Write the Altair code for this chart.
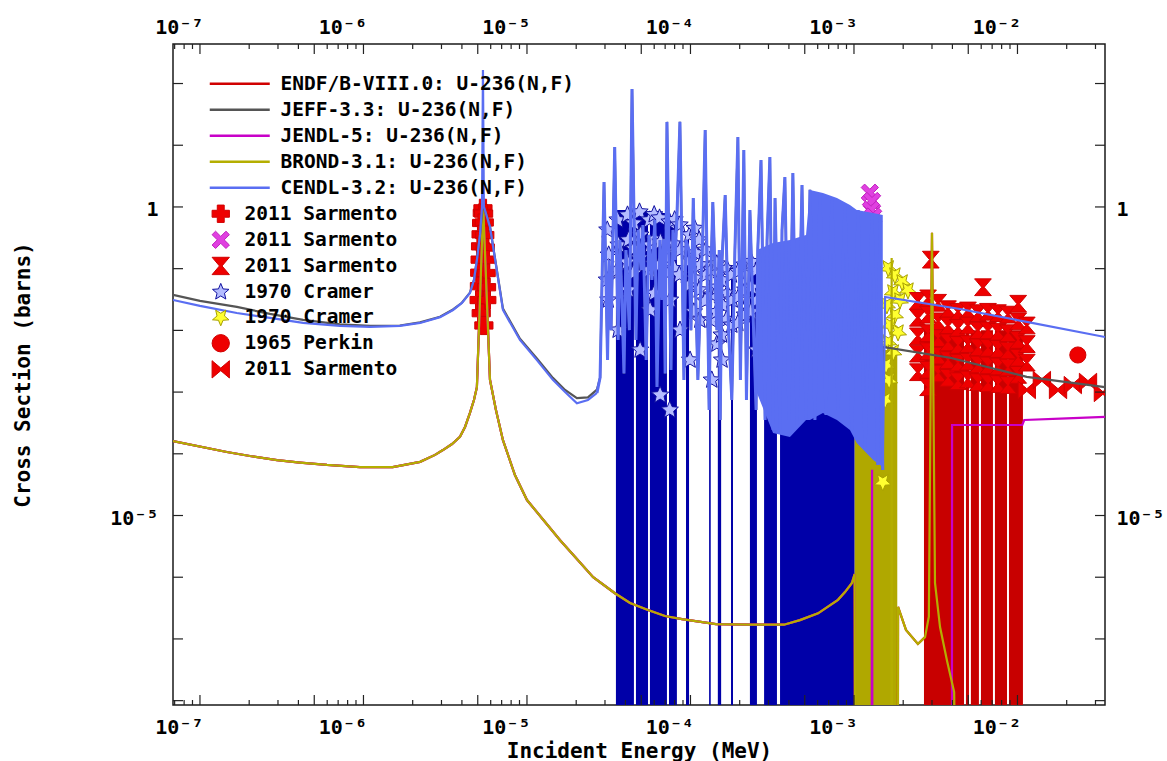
import altair as alt
import pandas as pd

FONT = "DejaVu Sans Mono"

# ------------------------------------------------------------------ categories
SERIES = ["ENDF/B-VIII.0: U-236(N,F)", "JEFF-3.3: U-236(N,F)", "JENDL-5: U-236(N,F)",
          "BROND-3.1: U-236(N,F)", "CENDL-3.2: U-236(N,F)"]
SERIES_COLORS = ["#d00000", "#555555", "#c800c8", "#b4ae00", "#5a6ef2"]

EXP_KEYS = ["sarm_plus", "sarm_x", "sarm_hour", "cram_blue", "cram_yel", "perkin", "sarm_bow"]
EXP_LABELS = ["2011 Sarmento", "2011 Sarmento", "2011 Sarmento", "1970 Cramer",
              "1970 Cramer", "1965 Perkin", "2011 Sarmento"]

# ------------------------------------------------------------------ axis ticks
X_MAJOR = [1e-7, 1e-6, 1e-5, 1e-4, 1e-3, 1e-2]
X_MID = [5e-7, 5e-6, 5e-5, 5e-4, 5e-3]
X_MINOR = [7e-8, 8e-8, 9e-8, 2e-7, 3e-7, 4e-7, 6e-7, 7e-7, 8e-7, 9e-7,
           2e-6, 3e-6, 4e-6, 6e-6, 7e-6, 8e-6, 9e-6,
           2e-5, 3e-5, 4e-5, 6e-5, 7e-5, 8e-5, 9e-5,
           2e-4, 3e-4, 4e-4, 6e-4, 7e-4, 8e-4, 9e-4,
           2e-3, 3e-3, 4e-3, 6e-3, 7e-3, 8e-3, 9e-3,
           2e-2, 3e-2]
Y_MAJOR = [1e-8, 1e-7, 1e-6, 1e-5, 1e-4, 1e-3, 1e-2, 1e-1, 1.0, 10.0, 100.0]
X_TICK_TEXT = {-7: "10⁻⁷", -6: "10⁻⁶", -5: "10⁻⁵", -4: "10⁻⁴", -3: "10⁻³", -2: "10⁻²"}
Y_TICK_TEXT = {0: "1", -5: "10⁻⁵"}

X_DOMAIN = [6.84e-8, 3.43e-2]
Y_DOMAIN = [8.5e-9, 437.0]
ZERO = 1e-12   # effectively zero cross section (below the plotted range)

# ------------------------------------------------------------------ evaluated data (E [MeV], sigma [b])
LOW_CURVE = [(6.84e-8, 1.6e-4), (1.46e-7, 1.07e-4), (2.02e-7, 9.2e-5), (2.96e-7, 7.9e-5),
             (4.09e-7, 7.2e-5), (5.98e-7, 6.6e-5), (9.5e-7, 6.1e-5), (1.51e-6, 6.1e-5),
             (2.22e-6, 7.4e-5), (2.74e-6, 9.6e-5), (3.06e-6, 1.15e-4), (3.48e-6, 1.44e-4),
             (3.89e-6, 1.88e-4), (4.18e-6, 2.72e-4), (4.48e-6, 4.6e-4), (4.74e-6, 7.45e-4),
             (4.94e-6, 1.2e-3), (5.40e-6, 1.0), (5.94e-6, 1.58e-3), (6.46e-6, 5.13e-4),
             (7.13e-6, 1.66e-4), (8.44e-6, 4.53e-5), (1.0e-5, 1.78e-5), (1.29e-5, 7.85e-6),
             (1.59e-5, 4.0e-6), (1.97e-5, 2.12e-6), (2.54e-5, 1.0e-6), (3.45e-5, 5.5e-7),
             (4.27e-5, 3.82e-7), (5.5e-5, 2.95e-7), (6.98e-5, 2.35e-7), (8.87e-5, 2.1e-7),
             (1.43e-4, 1.74e-7), (2.31e-4, 1.7e-7), (3.73e-4, 1.7e-7), (4.67e-4, 2.02e-7),
             (6.03e-4, 2.6e-7), (7.98e-4, 4.3e-7), (8.81e-4, 5.75e-7), (9.72e-4, 8.1e-7),
             (1.01e-3, 1.12e-6)]

ENDF_TAIL = [(1.02e-3, ZERO), (1.85e-3, ZERO), (1.86e-3, 3.3e-7), (2.08e-3, 1.4e-7),
             (2.46e-3, 8.3e-8), (2.72e-3, 1.07e-7), (2.87e-3, 2.3e-7), (3.0e-3, 0.38),
             (3.13e-3, 8.1e-7), (3.36e-3, 1.56e-7), (3.71e-3, 4.4e-8), (4.10e-3, 1.38e-8),
             (4.27e-3, ZERO)]

JENDL_TAIL = [(1.02e-3, ZERO), (1.28e-3, ZERO), (1.29e-3, 5.5e-5), (1.30e-3, ZERO),
              (3.97e-3, ZERO), (3.98e-3, 2.93e-4), (1.07e-2, 2.93e-4), (1.10e-2, 3.53e-4),
              (2.0e-2, 3.75e-4), (3.43e-2, 3.96e-4)]

BROND_TAIL = [(1.02e-3, ZERO), (1.69e-3, ZERO), (1.70e-3, 0.149), (1.71e-3, ZERO),
              (1.85e-3, ZERO), (1.86e-3, 3.3e-7), (2.08e-3, 1.4e-7), (2.46e-3, 8.3e-8),
              (2.72e-3, 1.07e-7), (2.87e-3, 2.3e-7), (3.0e-3, 0.38), (3.13e-3, 8.1e-7),
              (3.36e-3, 1.56e-7), (3.71e-3, 4.4e-8), (4.10e-3, 1.38e-8), (4.27e-3, ZERO)]

JEFF_LOW = [(6.84e-8, 0.0375), (1.0e-7, 0.030), (1.68e-7, 0.024), (2.68e-7, 0.0185),
            (4.27e-7, 0.0148), (7.18e-7, 0.0125), (1.10e-6, 0.0118), (1.67e-6, 0.0120),
            (2.22e-6, 0.0135), (2.94e-6, 0.0166), (3.53e-6, 0.0218), (4.00e-6, 0.028),
            (4.48e-6, 0.041), (4.74e-6, 0.066), (4.94e-6, 0.14), (5.16e-6, 0.36),
            (5.38e-6, 1.1), (5.60e-6, 0.8), (5.94e-6, 0.48), (6.46e-6, 0.118),
            (7.13e-6, 0.0225), (9.06e-6, 7.3e-3), (1.15e-5, 3.5e-3), (1.44e-5, 1.7e-3),
            (1.71e-5, 1.08e-3), (2.02e-5, 8.0e-4), (2.36e-5, 8.2e-4), (2.68e-5, 1.1e-3)]
JEFF_HIGH = [(1.50e-3, 5.4e-3), (3.87e-3, 3.6e-3), (1.14e-2, 1.76e-3), (3.43e-2, 1.2e-3)]

CENDL_LOW = [(6.84e-8, 0.0311), (1.0e-7, 0.0249), (1.68e-7, 0.0191), (2.68e-7, 0.0159),
             (4.27e-7, 0.0132), (7.18e-7, 0.0118), (1.10e-6, 0.0114), (1.67e-6, 0.0118),
             (2.22e-6, 0.0132), (2.94e-6, 0.0164), (3.53e-6, 0.0214), (4.00e-6, 0.0278),
             (4.48e-6, 0.0404), (4.74e-6, 0.0656), (4.94e-6, 0.138), (5.16e-6, 0.352),
             (5.31e-6, 1.0), (5.38e-6, 166.0), (5.45e-6, 1.0), (5.60e-6, 0.8),
             (5.94e-6, 0.474), (6.46e-6, 0.115), (7.13e-6, 0.0214), (9.06e-6, 6.99e-3),
             (1.15e-5, 3.3e-3), (1.44e-5, 1.58e-3), (1.71e-5, 1.0e-3), (2.02e-5, 6.6e-4),
             (2.36e-5, 7.45e-4), (2.68e-5, 9.7e-4)]
# resolved-resonance region (shared shape for CENDL-3.2 and JEFF-3.3)
RESONANCES = [(2.80e-5, 1.71e-3), (2.96e-5, 2.54), (3.11e-5, 3.31e-3), (3.18e-5, 0.138),
              (3.27e-5, 0.0101), (3.44e-5, 9.38), (3.61e-5, 6.99e-3), (3.70e-5, 0.292),
              (3.81e-5, 0.0311), (3.92e-5, 2.0e-3), (4.03e-5, 0.201), (4.23e-5, 0.0101),
              (4.39e-5, 81.7),
              (4.64e-5, 6.99e-3), (4.78e-5, 0.424), (4.99e-5, 0.0953), (5.12e-5, 0.511),
              (5.36e-5, 3.31e-3), (5.57e-5, 0.352), (5.81e-5, 0.0656), (6.06e-5, 0.616),
              (6.24e-5, 1.21e-3), (6.51e-5, 0.292), (6.69e-5, 0.0311), (6.85e-5, 0.30),
              (7.00e-5, 2.0e-3), (7.18e-5, 23.9),
              (7.60e-5, 2.28e-3), (7.81e-5, 0.424), (8.04e-5, 0.138), (8.27e-5, 0.742),
              (8.62e-5, 23.9), (9.12e-5, 1.57e-3), (9.38e-5, 0.292), (9.79e-5, 0.201),
              (1.007e-4, 0.0101), (1.04e-4, 1.40), (1.11e-4, 1.57e-3), (1.16e-4, 0.0656),
              (1.19e-4, 0.352), (1.23e-4, 17.7), (1.30e-4, 5.13e-4), (1.34e-4, 0.138),
              (1.37e-4, 1.20), (1.45e-4, 0.0101), (1.50e-4, 0.201), (1.52e-4, 3.53e-4),
              (1.56e-4, 0.138), (1.63e-4, 1.56), (1.71e-4, 0.0101), (1.79e-4, 7.45e-4),
              (1.87e-4, 0.201), (1.95e-4, 13.6), (2.02e-4, 1.57e-3), (2.12e-4, 8.39),
              (2.20e-4, 7.45e-4), (2.31e-4, 0.894), (2.40e-4, 0.0311), (2.52e-4, 5.13e-4),
              (2.58e-4, 0.201), (2.70e-4, 5.78), (2.86e-4, 3.53e-4), (2.94e-4, 0.292),
              (3.06e-4, 6.46), (3.20e-4, 2.43e-4), (3.29e-4, 1.40), (3.53e-4, 2.43e-4),
              (3.63e-4, 0.424), (3.78e-4, 3.06), (4.00e-4, 3.53e-4), (4.23e-4, 3.56),
              (4.48e-4, 2.93e-4), (4.81e-4, 2.27), (5.09e-4, 3.53e-4), (5.38e-4, 1.89),
              (5.77e-4, 3.53e-4), (6.19e-4, 1.56), (6.74e-4, 4.25e-4), (7.33e-4, 1.30),
              (8.00e-4, 5.13e-4), (8.81e-4, 1.08), (9.70e-4, 2.43e-4), (1.06e-3, 0.894),
              (1.17e-3, 1.15e-4), (1.29e-3, 0.742), (1.40e-3, 6.59e-5), (1.44e-3, 0.742),
              (1.50e-3, 5.46e-5)]
CENDL_HIGH = [(1.55e-3, 0.0348), (4.45e-3, 0.0222), (1.14e-2, 0.0137), (3.43e-2, 7.8e-3)]

# dense part of the CENDL resonance region: (E, lower envelope, upper envelope)
CENDL_DENSE = [(2.55e-4, 9.67e-4, 0.201), (3.20e-4, 2.17e-4, 0.261), (4.06e-4, 1.87e-4, 0.292),
               (5.09e-4, 3.53e-4, 0.352), (5.38e-4, 3.53e-4, 1.89), (6.46e-4, 4.58e-4, 1.69),
               (7.87e-4, 3.53e-4, 1.40), (9.45e-4, 2.43e-4, 1.08), (1.04e-3, 1.50e-4, 0.894),
               (1.31e-3, 7.94e-5, 0.80), (1.50e-3, 6.1e-5, 0.742)]

# ------------------------------------------------------------------ error-bar blocks (E_lo, E_hi, top)
CRAMER_BARS = [(3.50e-5, 4.51e-5, 0.89), (4.64e-5, 5.50e-5, 0.85), (5.65e-5, 7.18e-5, 0.80),
               (7.39e-5, 8.26e-5, 0.6), (9.39e-5, 9.80e-5, 0.35), (1.30e-4, 1.33e-4, 0.1),
               (1.47e-4, 1.54e-4, 0.1), (1.77e-4, 1.82e-4, 0.1), (2.31e-4, 2.55e-4, 0.1),
               (2.82e-4, 3.38e-4, 0.05), (3.53e-4, 1.01e-3, 0.05)]
BROND_BLOCK = [(1.01e-3, 1.84e-3, 4.8e-3)]
SARM_BARS = [(2.68e-3, 4.71e-3, 0.01), (4.84e-3, 5.05e-3, 0.01), (5.19e-3, 5.81e-3, 0.01),
             (5.98e-3, 7.08e-3, 0.01), (7.28e-3, 8.63e-3, 0.01), (8.87e-3, 1.08e-2, 0.01)]

# ------------------------------------------------------------------ experimental points (E, sigma)
SARM_PLUS = [(5.38e-6, 0.95), (5.33e-6, 0.80), (5.43e-6, 0.78), (5.28e-6, 0.55), (5.48e-6, 0.56),
             (5.24e-6, 0.36), (5.52e-6, 0.35), (5.20e-6, 0.23), (5.56e-6, 0.22), (5.17e-6, 0.14),
             (5.60e-6, 0.14), (5.14e-6, 0.086), (5.63e-6, 0.085), (5.12e-6, 0.052),
             (5.66e-6, 0.05), (5.10e-6, 0.031), (5.68e-6, 0.031), (5.25e-6, 0.019),
             (5.45e-6, 0.012)]
SARM_X = [(1.25e-3, 1.7), (1.29e-3, 1.25), (1.27e-3, 0.9), (1.31e-3, 0.7)]
SARM_HOUR = [(2.46e-3, 0.030), (2.46e-3, 0.016), (2.46e-3, 8.0e-3), (2.46e-3, 4.2e-3), (2.46e-3, 2.1e-3),
             (2.84e-3, 0.033), (2.84e-3, 0.018), (2.84e-3, 9.0e-3), (2.84e-3, 4.6e-3), (2.84e-3, 2.3e-3),
             (2.84e-3, 1.2e-3),
             (3.27e-3, 0.028), (3.27e-3, 0.014), (3.27e-3, 7.5e-3), (3.27e-3, 3.9e-3), (3.27e-3, 2.0e-3),
             (3.76e-3, 0.022), (3.76e-3, 0.012), (3.76e-3, 6.4e-3), (3.76e-3, 3.3e-3), (3.76e-3, 1.7e-3),
             (4.33e-3, 0.020), (4.33e-3, 0.011), (4.33e-3, 5.8e-3), (4.33e-3, 3.0e-3), (4.33e-3, 1.5e-3),
             (4.98e-3, 0.021), (4.98e-3, 0.012), (4.98e-3, 6.0e-3), (4.98e-3, 3.1e-3), (4.98e-3, 1.6e-3),
             (5.73e-3, 0.019), (5.73e-3, 0.010), (5.73e-3, 5.3e-3), (5.73e-3, 2.8e-3), (5.73e-3, 1.45e-3),
             (6.60e-3, 0.020), (6.60e-3, 0.010), (6.60e-3, 5.2e-3), (6.60e-3, 2.7e-3), (6.60e-3, 1.4e-3),
             (7.60e-3, 0.019), (7.60e-3, 9.5e-3), (7.60e-3, 5.0e-3), (7.60e-3, 2.6e-3), (7.60e-3, 1.35e-3),
             (8.75e-3, 0.018), (8.75e-3, 9.0e-3), (8.75e-3, 4.7e-3), (8.75e-3, 2.5e-3), (8.75e-3, 1.3e-3),
             (1.01e-2, 0.027), (1.01e-2, 0.014), (1.01e-2, 7.0e-3), (1.01e-2, 3.6e-3), (1.01e-2, 1.9e-3),
             (1.14e-2, 0.012), (1.14e-2, 6.0e-3), (1.14e-2, 3.0e-3),
             (2.95e-3, 0.14), (6.15e-3, 0.050)]
CRAMER_BLUE = [(3.10e-5, 0.424), (3.16e-5, 0.167), (3.08e-5, 0.0656), (3.14e-5, 0.0311),
               (3.58e-5, 0.616), (3.63e-5, 0.242), (3.56e-5, 0.0953), (3.61e-5, 0.0101),
               (4.12e-5, 0.742), (4.18e-5, 0.292), (4.10e-5, 0.128), (4.16e-5, 0.0452),
               (4.50e-5, 0.55), (4.52e-5, 0.21), (4.48e-5, 0.085),
               (4.88e-5, 0.830), (4.94e-5, 0.352), (4.86e-5, 0.149), (4.92e-5, 4.81e-3),
               (5.62e-5, 0.616), (5.69e-5, 0.242), (5.60e-5, 0.0953), (5.66e-5, 0.0214),
               (6.00e-5, 0.75), (6.03e-5, 0.30), (5.98e-5, 0.12), (6.02e-5, 0.040),
               (6.47e-5, 0.663), (6.55e-5, 0.271), (6.44e-5, 0.115), (6.52e-5, 8.98e-4),
               (7.45e-5, 0.571), (7.53e-5, 0.216), (7.42e-5, 0.0885), (7.50e-5, 0.0311),
               (7.47e-5, 5.13e-4),
               (8.00e-5, 0.62), (8.03e-5, 0.25), (7.98e-5, 0.10),
               (8.58e-5, 0.511), (8.66e-5, 0.201), (8.55e-5, 0.0791), (8.63e-5, 0.0101),
               (9.88e-5, 0.352), (9.97e-5, 0.138), (9.85e-5, 0.0544), (9.94e-5, 3.31e-3),
               (1.06e-4, 0.45), (1.07e-4, 0.18), (1.06e-4, 0.07), (1.05e-4, 0.020),
               (1.13e-4, 0.292), (1.15e-4, 0.115), (1.13e-4, 0.0452), (1.14e-4, 0.0147),
               (1.24e-4, 0.20), (1.25e-4, 0.08), (1.23e-4, 0.030),
               (1.34e-4, 0.0953), (1.36e-4, 0.0375), (1.34e-4, 0.0147), (1.35e-4, 1.57e-3),
               (1.45e-4, 0.12), (1.46e-4, 0.050), (1.44e-4, 0.020), (1.45e-4, 6.0e-3),
               (1.55e-4, 0.0656), (1.57e-4, 0.0258), (1.55e-4, 8.42e-3), (1.56e-4, 3.31e-3),
               (1.67e-4, 0.10), (1.68e-4, 0.040), (1.66e-4, 0.015),
               (1.78e-4, 0.0791), (1.80e-4, 0.0311), (1.79e-4, 0.0122),
               (1.96e-4, 0.090), (1.97e-4, 0.035), (1.95e-4, 0.013),
               (2.14e-4, 0.115), (2.16e-4, 0.0452), (2.15e-4, 0.0178),
               (2.35e-4, 0.13), (2.36e-4, 0.050), (2.34e-4, 0.020),
               (2.54e-4, 0.0953), (2.56e-4, 0.0311), (2.55e-4, 4.81e-3)]
CRAMER_YELLOW = [(1.62e-3, 0.103), (1.78e-3, 0.079), (1.97e-3, 0.061), (2.14e-3, 0.045),
                 (1.73e-3, 0.042), (1.91e-3, 0.031), (1.59e-3, 0.0258), (1.78e-3, 0.0178),
                 (1.66e-3, 0.0122), (1.86e-3, 9.4e-3), (1.62e-3, 6.5e-3), (1.74e-3, 4.47e-3),
                 (1.57e-3, 2.75e-3), (1.64e-3, 1.57e-3), (1.55e-3, 7.45e-4), (1.50e-3, 3.5e-5)]
PERKIN = [(2.34e-2, 3.99e-3)]
SARM_BOW = [(1.14e-2, 1.08e-3), (1.41e-2, 1.57e-3), (1.77e-2, 1.08e-3), (2.18e-2, 1.30e-3),
            (2.70e-2, 1.46e-3), (3.33e-2, 9.67e-4)]

# ------------------------------------------------------------------ styles
STAR5 = ("M0,-1L0.265,-0.364L0.951,-0.309L0.428,0.139L0.588,0.809L0,0.45L-0.588,0.809"
         "L-0.428,0.139L-0.951,-0.309L-0.265,-0.364Z")
STAR5_DOWN = ("M0,1L0.265,0.364L0.951,0.309L0.428,-0.139L0.588,-0.809L0,-0.45L-0.588,-0.809"
              "L-0.428,-0.139L-0.951,0.309L-0.265,0.364Z")
XSHAPE = "M-1,-0.6L-0.6,-1L0,-0.4L0.6,-1L1,-0.6L0.4,0L1,0.6L0.6,1L0,0.4L-0.6,1L-1,0.6L-0.4,0Z"
HOUR = "M-1,-1L1,-1L0.15,0L1,1L-1,1L-0.15,0Z"
BOW = "M-1,-1L0,-0.15L1,-1L1,1L0,0.15L-1,1Z"
MK_SHAPE = {"sarm_plus": "cross", "sarm_x": XSHAPE, "sarm_hour": HOUR, "cram_blue": STAR5,
            "cram_yel": STAR5_DOWN, "perkin": "circle", "sarm_bow": BOW}
MK_FILL = {"sarm_plus": "#ee0000", "sarm_x": "#e040e0", "sarm_hour": "#ee0000",
           "cram_blue": "#b4bcff", "cram_yel": "#ffff30", "perkin": "#ee0000", "sarm_bow": "#ee0000"}
MK_STROKE = {"sarm_plus": "#d00000", "sarm_x": "#c020c0", "sarm_hour": "#d00000",
             "cram_blue": "#1010a0", "cram_yel": "#a8a000", "perkin": "#d00000", "sarm_bow": "#d00000"}
MK_SIZE = {"sarm_plus": 330, "sarm_x": 300, "sarm_hour": 280, "cram_blue": 330,
           "cram_yel": 320, "perkin": 260, "sarm_bow": 300}
CENDL_WIDTH = {"low": 2.2, "res": 3.0, "high": 2.2}

W, H = 932, 661

XS = alt.Scale(type="log", domain=X_DOMAIN, nice=False)
YS = alt.Scale(type="log", domain=Y_DOMAIN, nice=False)

# ------------------------------------------------------------------ tables
line_rows = []
for name, pts in [(SERIES[0], LOW_CURVE + ENDF_TAIL), (SERIES[2], LOW_CURVE + JENDL_TAIL),
                  (SERIES[3], LOW_CURVE + BROND_TAIL),
                  (SERIES[1], JEFF_LOW + RESONANCES + JEFF_HIGH)]:
    for i, (e, s) in enumerate(pts):
        line_rows.append({"series": name, "E": e, "xs": s, "i": i})
lines_df = pd.DataFrame(line_rows)

cendl_rows = []
prev = []
for part, pts in [("low", CENDL_LOW), ("res", RESONANCES), ("high", CENDL_HIGH)]:
    seg = prev + pts          # join each part to the last point of the previous one
    for i, (e, s) in enumerate(seg):
        cendl_rows.append({"series": SERIES[4], "part": part, "E": e, "xs": s, "i": i,
                           "w": CENDL_WIDTH[part]})
    prev = [pts[-1]]
cendl_df = pd.DataFrame(cendl_rows)
band_df = pd.DataFrame(CENDL_DENSE, columns=["E", "lo", "hi"])

exp_rows = []
for key, pts in [("cram_blue", CRAMER_BLUE), ("cram_yel", CRAMER_YELLOW), ("sarm_hour", SARM_HOUR),
                 ("sarm_bow", SARM_BOW), ("perkin", PERKIN), ("sarm_plus", SARM_PLUS),
                 ("sarm_x", SARM_X)]:
    for e, s in pts:
        exp_rows.append({"mk": key, "E": e, "xs": s, "sz": MK_SIZE[key]})
exp_df = pd.DataFrame(exp_rows)

# ------------------------------------------------------------------ guides
def ternary(mapping, fallback="''"):
    parts = [f"round(log(datum.value)/LN10) == {k} ? '{v}'" for k, v in mapping.items()]
    return " : ".join(parts) + " : " + fallback

XLAB = ternary(X_TICK_TEXT)
YLAB = ternary(Y_TICK_TEXT)
MKLAB = " : ".join(f"datum.label == '{k}' ? '{l}'" for k, l in zip(EXP_KEYS, EXP_LABELS)) + " : ''"

AX = dict(grid=False, ticks=False, domain=False, labelFont=FONT, labelFontWeight="bold",
          labelFontSize=20, labelColor="black", labelFlush=False, labelOverlap=False,
          labelBound=False, titleFont=FONT, titleFontWeight="bold", titleFontSize=21,
          titleColor="black")

ax_bottom = alt.Axis(orient="bottom", values=X_MAJOR, labelExpr=XLAB, labelAlign="right",
                     labelOffset=3, labelPadding=12, title="Incident Energy (MeV)",
                     titlePadding=3, **AX)
ax_top = alt.Axis(orient="top", values=X_MAJOR, labelExpr=XLAB, labelAlign="right",
                  labelOffset=3, labelPadding=7, title=None, **AX)
ax_left = alt.Axis(orient="left", values=Y_MAJOR, labelExpr=YLAB, labelPadding=15,
                   labelOffset=3, title="Cross Section (barns)", titlePadding=76, **AX)
ax_right = alt.Axis(orient="right", values=Y_MAJOR, labelExpr=YLAB, labelPadding=11,
                    labelOffset=3, title=None, **AX)

LEG = dict(title=None, orient="none", direction="vertical", labelFont=FONT,
           labelFontWeight="bold", labelFontSize=19.5, labelColor="black", labelLimit=600,
           padding=0)
line_legend = alt.Legend(legendX=57, legendY=30, symbolType="M-3.75,0H3.75", symbolSize=256,
                         symbolStrokeWidth=2.5, labelOffset=31, rowPadding=5, **LEG)
mk_legend = alt.Legend(legendX=38, legendY=160, symbolSize=300, symbolStrokeWidth=1,
                       symbolOpacity=1, labelOffset=14, labelExpr=MKLAB, rowPadding=4.1, **LEG)

color_enc = alt.Color("series:N", scale=alt.Scale(domain=SERIES, range=SERIES_COLORS),
                      legend=line_legend)

# ------------------------------------------------------------------ layers
def blocks(rows, color):
    df = pd.DataFrame(rows, columns=["lo", "hi", "top"])
    return alt.Chart(df).mark_rect(color=color, clip=True).encode(
        x=alt.X("lo:Q", scale=XS, axis=None), x2="hi:Q",
        y=alt.Y("top:Q", scale=YS, axis=None), y2=alt.datum(ZERO))

navy = blocks(CRAMER_BARS, "#0000a8")
olive = blocks(BROND_BLOCK, "#b0a800")
dred = blocks(SARM_BARS, "#c80000")

points = alt.Chart(exp_df).mark_point(filled=True, opacity=1, strokeWidth=1, clip=True).encode(
    x=alt.X("E:Q", scale=XS, axis=None),
    y=alt.Y("xs:Q", scale=YS, axis=None),
    shape=alt.Shape("mk:N", scale=alt.Scale(domain=EXP_KEYS, range=[MK_SHAPE[k] for k in EXP_KEYS]),
                    legend=mk_legend),
    fill=alt.Fill("mk:N", scale=alt.Scale(domain=EXP_KEYS, range=[MK_FILL[k] for k in EXP_KEYS]),
                  legend=mk_legend),
    stroke=alt.Stroke("mk:N", scale=alt.Scale(domain=EXP_KEYS, range=[MK_STROKE[k] for k in EXP_KEYS]),
                      legend=mk_legend),
    size=alt.Size("sz:Q", scale=None),
)

lines = alt.Chart(lines_df).mark_line(strokeWidth=2.2, clip=True).encode(
    x=alt.X("E:Q", scale=XS, axis=None), y=alt.Y("xs:Q", scale=YS, axis=None),
    color=color_enc, order="i:Q")

band = alt.Chart(band_df).mark_area(color=SERIES_COLORS[4], opacity=1, clip=True).encode(
    x=alt.X("E:Q", scale=XS, axis=None), y=alt.Y("lo:Q", scale=YS, axis=None), y2="hi:Q")

cendl = alt.Chart(cendl_df).mark_line(clip=True).encode(
    x=alt.X("E:Q", scale=XS, axis=None), y=alt.Y("xs:Q", scale=YS, axis=None),
    color=color_enc, detail="part:N", order="i:Q",
    strokeWidth=alt.StrokeWidth("w:Q", scale=None))

TICK = dict(color="#222222", strokeWidth=1.2)
xb_major = alt.Chart(pd.DataFrame({"v": X_MAJOR + X_MID})).mark_rule(**TICK).encode(
    x=alt.X("v:Q", scale=XS, axis=ax_bottom), y=alt.value(H), y2=alt.value(H - 10))
xb_minor = alt.Chart(pd.DataFrame({"v": X_MINOR})).mark_rule(**TICK).encode(
    x=alt.X("v:Q", scale=XS, axis=None), y=alt.value(H), y2=alt.value(H - 5))
xt_major = alt.Chart(pd.DataFrame({"v": X_MAJOR + X_MID})).mark_rule(**TICK).encode(
    x=alt.X("v:Q", scale=XS, axis=ax_top), y=alt.value(0), y2=alt.value(10))
xt_minor = alt.Chart(pd.DataFrame({"v": X_MINOR})).mark_rule(**TICK).encode(
    x=alt.X("v:Q", scale=XS, axis=None), y=alt.value(0), y2=alt.value(5))
yl = alt.Chart(pd.DataFrame({"v": Y_MAJOR})).mark_rule(**TICK).encode(
    y=alt.Y("v:Q", scale=YS, axis=ax_left), x=alt.value(0), x2=alt.value(10))
yr = alt.Chart(pd.DataFrame({"v": Y_MAJOR})).mark_rule(**TICK).encode(
    y=alt.Y("v:Q", scale=YS, axis=ax_right), x=alt.value(W), x2=alt.value(W - 10))

chart = alt.layer(
    navy, olive, dred, points, lines, band, cendl,
    xb_major, xb_minor, xt_major, xt_minor, yl, yr,
).resolve_axis(x="independent", y="independent").properties(
    width=W, height=H,
    padding={"left": 173, "top": 44, "right": 62, "bottom": 56},
    autosize=alt.AutoSizeParams(type="none"),
    background="white",
).configure_view(stroke="#1a1a1a", strokeWidth=1.5)

chart.save("out.html", embed_options={"renderer": "svg", "actions": False})
